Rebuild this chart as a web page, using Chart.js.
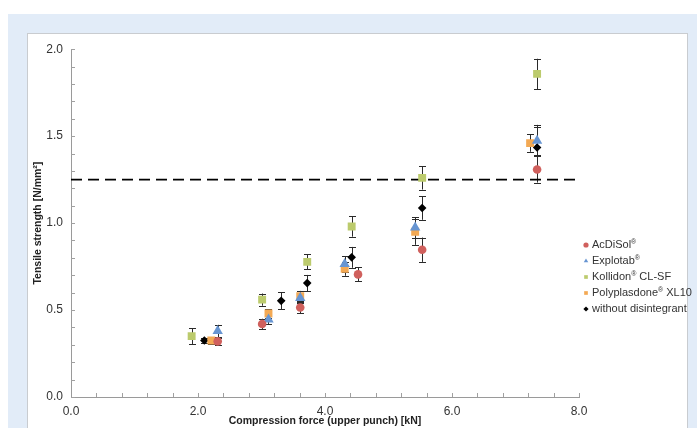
<!DOCTYPE html>
<html lang="en">
  <head>
    <meta charset="UTF-8" />
    <title>Tensile strength</title>
    <script src="https://cdn.jsdelivr.net/npm/chart.js"></script>
    <style>
      body {
        margin: 0;
        background: #ffffff;
        width: 697px;
        height: 428px;
        overflow: hidden;
        position: relative;
      }
      #band {
        position: absolute;
        left: 8px;
        top: 14px;
        right: 0;
        bottom: 0;
        background: #e2ecf8;
      }
      #panel {
        position: absolute;
        left: 27px;
        top: 33px;
        width: 659px;
        height: 400px;
        background: #ffffff;
        border: 1px solid #c9ccd0;
      }
      #myChart {
        position: absolute;
        left: 0;
        top: 0;
      }
    </style>
  </head>
  <body>
    <div id="band"></div>
    <div id="panel">
      <canvas id="myChart" width="668" height="395"></canvas>
    </div>
    <script>
      // data
      const labels = [
        "AcDiSol®",
        "Explotab®",
        "Kollidon® CL-SF",
        "Polyplasdone® XL10",
        "without disintegrant",
      ];
      const xTitle = "Compression force (upper punch) [kN]";
      const yTitle = "Tensile strength [N/mm²]";

      const acdisolX = [2.31, 3.01, 3.61, 4.52, 5.53, 7.34];
      const acdisolY = [0.32, 0.42, 0.515, 0.705, 0.847, 1.308];
      const acdisolErr = [0.02, 0.03, 0.034, 0.04, 0.07, 0.075];

      const explotabX = [2.31, 3.11, 3.61, 4.31, 5.42, 7.34];
      const explotabY = [0.38, 0.445, 0.57, 0.765, 0.975, 1.473];
      const explotabErr = [0.035, 0.025, 0.03, 0.045, 0.06, 0.08];

      const kollidonX = [1.9, 3.01, 3.72, 4.42, 5.53, 7.34];
      const kollidonY = [0.35, 0.56, 0.777, 0.98, 1.26, 1.858];
      const kollidonErr = [0.045, 0.035, 0.043, 0.058, 0.067, 0.087];

      const polyX = [2.21, 3.11, 3.61, 4.31, 5.42, 7.23];
      const polyY = [0.325, 0.48, 0.58, 0.737, 0.95, 1.46];
      const polyErr = [0.02, 0.025, 0.03, 0.04, 0.075, 0.05];

      const withoutX = [2.1, 3.31, 3.72, 4.42, 5.53, 7.34];
      const withoutY = [0.325, 0.553, 0.655, 0.803, 1.087, 1.435];
      const withoutErr = [0.015, 0.048, 0.047, 0.06, 0.068, 0.13];

      const threshold = 1.25;
      const xTicks = [0, 2, 4, 6, 8];
      const yTicks = [0, 0.5, 1, 1.5, 2];

      const colors = ["#d0605d", "#6795d2", "#bccb6d", "#f3a954", "#000000"];
      const shapes = ["circle", "triangle", "rect", "rect", "rectRot"];
      const radii = [4.3, 6, 5.6, 5.6, 4.3];

      const toPoints = (xs, ys) => xs.map((x, i) => ({ x: x, y: ys[i] }));
      const series = [
        [acdisolX, acdisolY, acdisolErr],
        [explotabX, explotabY, explotabErr],
        [kollidonX, kollidonY, kollidonErr],
        [polyX, polyY, polyErr],
        [withoutX, withoutY, withoutErr],
      ];

      const datasets = series.map((s, i) => ({
        type: "scatter",
        label: labels[i],
        data: toPoints(s[0], s[1]),
        errors: s[2],
        pointStyle: shapes[i],
        pointRadius: radii[i],
        pointHoverRadius: radii[i],
        backgroundColor: colors[i],
        borderColor: colors[i],
        borderWidth: 0,
        order: 1,
      }));

      datasets.push({
        type: "line",
        label: "limit",
        data: [
          { x: xTicks[0], y: threshold },
          { x: xTicks[xTicks.length - 1], y: threshold },
        ],
        borderColor: "#000000",
        borderWidth: 1.6,
        borderDash: [11, 6],
        pointRadius: 0,
        fill: false,
        order: 2,
      });

      // text with a small raised ® sign
      const drawRegText = (ctx, text, x, y, size) => {
        const parts = text.split("®");
        let cx = x;
        parts.forEach((p, i) => {
          ctx.font = size + "px 'Liberation Sans', Arial, sans-serif";
          ctx.fillText(p, cx, y);
          cx += ctx.measureText(p).width;
          if (i < parts.length - 1) {
            ctx.font = Math.round(size * 0.6) + "px 'Liberation Sans', Arial, sans-serif";
            ctx.fillText("®", cx, y - size * 0.3);
            cx += ctx.measureText("®").width;
          }
        });
      };

      // error bars, inward minor ticks and the legend
      const extras = {
        id: "extras",
        beforeDatasetsDraw(chart) {
          const ctx = chart.ctx;
          const xs = chart.scales.x;
          const ys = chart.scales.y;
          ctx.save();
          ctx.strokeStyle = "#a0a0a0";
          ctx.lineWidth = 1;
          for (let v = 0; v <= 2.0001; v += 0.1) {
            const p = Math.round(ys.getPixelForValue(v)) + 0.5;
            ctx.beginPath();
            ctx.moveTo(xs.left, p);
            ctx.lineTo(xs.left + 4, p);
            ctx.stroke();
          }
          for (let v = 0.4; v <= 8.0001; v += 0.4) {
            const p = Math.round(xs.getPixelForValue(v)) + 0.5;
            ctx.beginPath();
            ctx.moveTo(p, ys.bottom);
            ctx.lineTo(p, ys.bottom - 4);
            ctx.stroke();
          }
          ctx.strokeStyle = "#2a2a2a";
          chart.data.datasets.forEach((ds) => {
            if (!ds.errors) return;
            ds.data.forEach((pt, i) => {
              const px = Math.round(xs.getPixelForValue(pt.x)) + 0.5;
              const top = ys.getPixelForValue(pt.y + ds.errors[i]);
              const bot = ys.getPixelForValue(pt.y - ds.errors[i]);
              ctx.beginPath();
              ctx.moveTo(px, top);
              ctx.lineTo(px, bot);
              ctx.moveTo(px - 3.5, Math.round(top) + 0.5);
              ctx.lineTo(px + 3.5, Math.round(top) + 0.5);
              ctx.moveTo(px - 3.5, Math.round(bot) + 0.5);
              ctx.lineTo(px + 3.5, Math.round(bot) + 0.5);
              ctx.stroke();
            });
          });
          ctx.restore();
        },
        afterDraw(chart) {
          const ctx = chart.ctx;
          const x0 = chart.chartArea.right + 7;
          const y0 = 211;
          ctx.save();
          ctx.textBaseline = "middle";
          labels.forEach((lab, i) => {
            const y = y0 + i * 16;
            ctx.fillStyle = colors[i];
            Chart.helpers.drawPoint(
              ctx,
              { pointStyle: shapes[i], radius: 2.6, borderWidth: 0 },
              x0,
              y
            );
            ctx.fillStyle = "#333333";
            drawRegText(ctx, lab, x0 + 6, y, 11);
          });
          ctx.restore();
        },
      };

      const titleFont = { family: "'Liberation Sans', Arial", size: 10.5, weight: "bold" };

      const config = {
        data: { datasets: datasets },
        options: {
          responsive: false,
          animation: false,
          devicePixelRatio: 1,
          layout: { padding: { top: 11, right: 117, left: 0, bottom: 0 } },
          plugins: {
            legend: { display: false },
            tooltip: { enabled: false },
          },
          scales: {
            x: {
              type: "linear",
              min: 0,
              max: 8,
              afterBuildTicks: (s) => {
                s.ticks = xTicks.map((v) => ({ value: v }));
              },
              afterFit: (s) => {
                s.height = 32;
              },
              grid: { display: false, drawTicks: false },
              border: { display: true, color: "#9a9a9a", width: 1 },
              ticks: {
                padding: 7,
                color: "#333333",
                font: { family: "'Liberation Sans', Arial", size: 12 },
                callback: (v) => v.toFixed(1),
                maxRotation: 0,
              },
              title: {
                display: true,
                text: xTitle,
                color: "#222222",
                font: titleFont,
                padding: { top: 0, bottom: 2 },
              },
            },
            y: {
              type: "linear",
              min: 0,
              max: 2,
              afterBuildTicks: (s) => {
                s.ticks = yTicks.map((v) => ({ value: v }));
              },
              afterFit: (s) => {
                s.width = 43;
              },
              grid: { display: false, drawTicks: false },
              border: { display: true, color: "#9a9a9a", width: 1 },
              ticks: {
                padding: 8,
                color: "#333333",
                font: { family: "'Liberation Sans', Arial", size: 12 },
                callback: (v) => v.toFixed(1),
              },
              title: {
                display: true,
                text: yTitle,
                color: "#222222",
                font: titleFont,
                padding: { top: 4, bottom: 0 },
              },
            },
          },
        },
        plugins: [extras],
      };

      const myChart = new Chart(document.getElementById("myChart"), config);
    </script>
  </body>
</html>
